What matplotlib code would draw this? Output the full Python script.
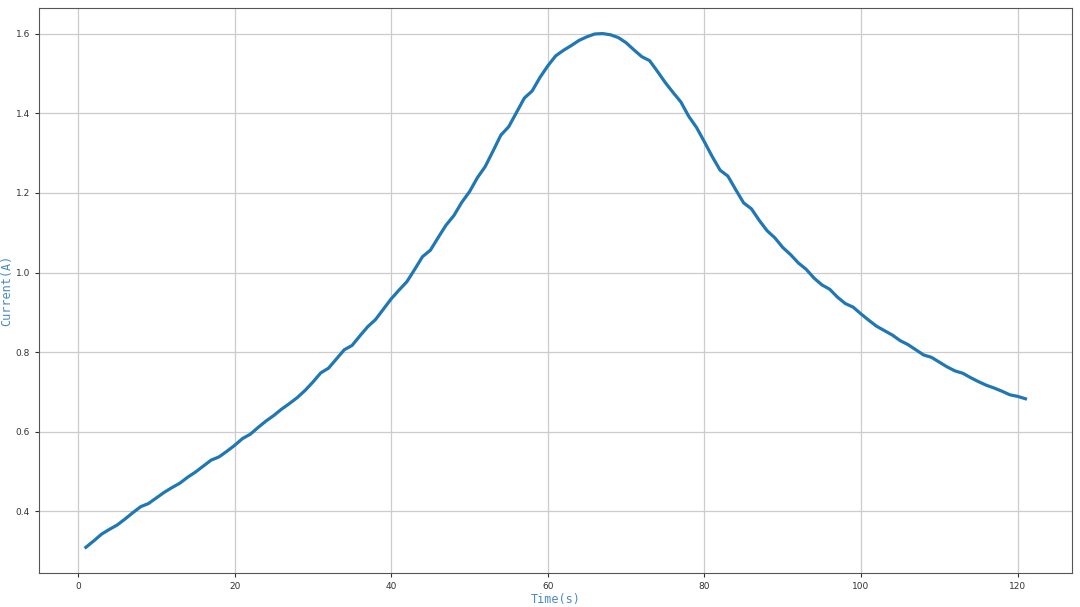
import numpy as np
import matplotlib.pyplot as plt

# Current readings, one per second (t = 1..121)
time_s = list(range(1, 122))
current_a = [
    0.310, 0.326, 0.343, 0.355, 0.366, 0.381, 0.397, 0.412, 0.420, 0.434,
    0.448, 0.460, 0.471, 0.486, 0.499, 0.514, 0.529, 0.537, 0.551, 0.566,
    0.583, 0.594, 0.611, 0.627, 0.641, 0.657, 0.671, 0.686, 0.704, 0.725,
    0.748, 0.760, 0.783, 0.806, 0.817, 0.841, 0.864, 0.882, 0.908, 0.934,
    0.956, 0.977, 1.008, 1.040, 1.056, 1.088, 1.119, 1.143, 1.176, 1.203,
    1.238, 1.266, 1.305, 1.345, 1.366, 1.402, 1.438, 1.456, 1.490, 1.519,
    1.544, 1.558, 1.570, 1.583, 1.592, 1.599, 1.600, 1.597, 1.590, 1.577,
    1.559, 1.542, 1.532, 1.505, 1.477, 1.452, 1.428, 1.392, 1.364, 1.328,
    1.291, 1.257, 1.242, 1.208, 1.175, 1.160, 1.131, 1.105, 1.087, 1.063,
    1.045, 1.024, 1.008, 0.986, 0.969, 0.958, 0.938, 0.922, 0.913, 0.896,
    0.880, 0.865, 0.854, 0.843, 0.829, 0.819, 0.806, 0.793, 0.787, 0.775,
    0.763, 0.753, 0.747, 0.736, 0.726, 0.717, 0.710, 0.702, 0.693, 0.689,
    0.683,
]

fig = plt.figure(figsize=(10.8, 6.07), dpi=100)
ax = fig.add_axes([0.036, 0.056, 0.957, 0.931])

ax.plot(time_s, current_a, color='#1f77b4', linewidth=2.3)

ax.grid(True, color='#cccccc', linewidth=0.9)
ax.set_axisbelow(True)

ax.set_xlabel('Time(s)', color='#4a8ac4', fontsize=8.5, family='DejaVu Sans Mono')
ax.set_ylabel('Current(A)', color='#4a8ac4', fontsize=8.5, family='DejaVu Sans Mono')
ax.xaxis.set_label_coords(0.5, -0.035)
ax.yaxis.set_label_coords(-0.025, 0.5)
ax.tick_params(labelsize=6.5, length=3, colors='#333333')
for sp in ax.spines.values():
    sp.set_color('#555555')

fig.savefig('out.png', dpi=100)
